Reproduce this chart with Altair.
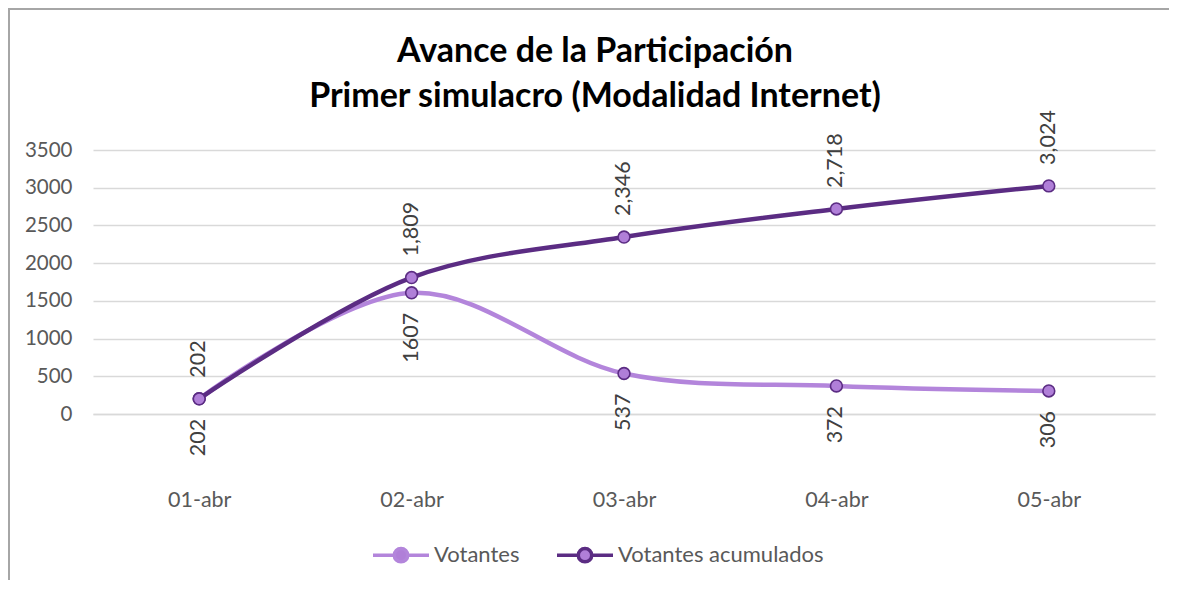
import altair as alt
import pandas as pd

fechas = ["01-abr", "02-abr", "03-abr", "04-abr", "05-abr"]
votantes = [202, 1607, 537, 372, 306]
acumulados = [202, 1809, 2346, 2718, 3024]
series = ["Votantes", "Votantes acumulados"]
y_ticks = [0, 500, 1000, 1500, 2000, 2500, 3000, 3500]
titulo = ["Avance de la Participación", "Primer simulacro (Modalidad Internet)"]

LIGHT = "#B385DB"
DARK = "#5B2C83"
MARKER = "#B07FD8"
FONT = "Lato"

df = pd.DataFrame({
    "fecha": fechas * 2,
    "serie": [series[0]] * len(fechas) + [series[1]] * len(fechas),
    "valor": votantes + acumulados,
    "etiqueta": [str(v) for v in votantes] + [f"{v:,}" for v in acumulados],
})

W, H = 1062, 264

x = alt.X("fecha:N", sort=fechas, scale=alt.Scale(type="point", padding=0.5),
          axis=alt.Axis(title=None, labelAngle=0, labelFontSize=21.5, labelColor="#595959",
                        labelFont=FONT, labelPadding=75, ticks=False, domain=True,
                        domainColor="#D9D9D9", domainWidth=1.5, grid=False))
y = alt.Y("valor:Q", scale=alt.Scale(domain=[0, 3500], nice=False),
          axis=alt.Axis(title=None, values=y_ticks, format="d", labelOverlap=False,
                        labelFontSize=20.5, labelColor="#595959",
                        labelFont=FONT, labelPadding=21, ticks=False, domain=False,
                        grid=True, gridColor="#D9D9D9", gridWidth=1.5))

legend_path = ("M-1,0L-0.24,0M0.24,0L1,0M-0.24,0A0.24,0.24,0,1,1,0.24,0"
               "A0.24,0.24,0,1,1,-0.24,0Z")

base = alt.Chart(df)

lines = base.mark_line(interpolate="catmull-rom", strokeWidth=4.5).encode(
    x=x, y=y,
    color=alt.Color("serie:N", scale=alt.Scale(domain=series, range=[LIGHT, DARK]),
                    legend=alt.Legend(title=None, orient="none", direction="horizontal",
                                      legendX=278, legendY=375, symbolType=legend_path,
                                      symbolSize=3136, symbolStrokeWidth=3.5,
                                      symbolFillColor=MARKER, labelFontSize=22,
                                      labelFont=FONT, labelColor="#595959", labelLimit=400,
                                      labelOffset=3, columnPadding=30, padding=0)),
)

points = base.mark_point(shape="circle", filled=True, fill=MARKER, stroke=DARK,
                         strokeWidth=1.6, size=140, opacity=1).encode(x=x, y=y)

lab_dark = base.transform_filter(alt.datum.serie == series[1]).mark_text(
    angle=270, align="left", baseline="middle", dx=21, fontSize=21.5, font=FONT,
    color="#404040").encode(x=x, y=y, text="etiqueta:N")

lab_light = base.transform_filter(alt.datum.serie == series[0]).mark_text(
    angle=270, align="right", baseline="middle", dx=-20, fontSize=21.5, font=FONT,
    color="#404040").encode(x=x, y=y, text="etiqueta:N")

frame_left = alt.Chart(pd.DataFrame({"k": [0]})).mark_rule(color="#A6A6A6", strokeWidth=2).encode(
    x=alt.value(-84), y=alt.value(-142), y2=alt.value(H + 166))
frame_top = alt.Chart(pd.DataFrame({"k": [0]})).mark_rule(color="#A6A6A6", strokeWidth=2).encode(
    x=alt.value(-85), x2=alt.value(W + 20), y=alt.value(-141))

chart = alt.layer(frame_left, frame_top, lines, points, lab_dark, lab_light).properties(
    width=W, height=H,
    title=alt.TitleParams(titulo, anchor="middle", frame="group", dx=-29, fontSize=34,
                          font=FONT, fontWeight="bold", color="#000000", lineHeight=45,
                          offset=-107),
    autosize=alt.AutoSizeParams(type="none"),
    padding={"left": 85, "top": 142, "right": 14, "bottom": 166},
).configure_view(stroke=None)

chart.save("out.html", embed_options={"renderer": "svg", "actions": False})
